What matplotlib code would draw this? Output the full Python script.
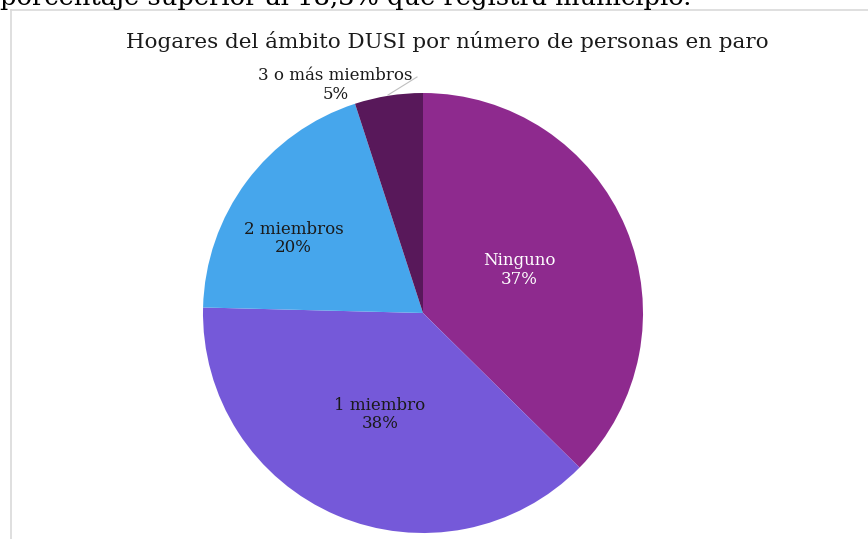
import matplotlib
matplotlib.use("Agg")
import matplotlib.pyplot as plt
import numpy as np
from matplotlib.lines import Line2D

categories = ["Ninguno", "1 miembro", "2 miembros", "3 o más miembros"]
values = [37.4, 38.0, 19.6, 5.0]
pct_labels = ["37%", "38%", "20%", "5%"]
colors = ["#8E2A8E", "#7559D9", "#46A6EC", "#58185A"]
title = "Hogares del ámbito DUSI por número de personas en paro"
top_text = "porcentaje superior al 18,3% que registra municipio."

W, H = 868, 539
cx, cy, R = 423, 313, 220
fig = plt.figure(figsize=(W / 100, H / 100), dpi=100)
fig.patch.set_facecolor("white")
font = "DejaVu Serif"

# border lines of the chart frame
fig.add_artist(Line2D([11 / W, 11 / W], [0, 1 - 10 / H], transform=fig.transFigure, color="#D9D9D9", lw=1.2))
fig.add_artist(Line2D([11 / W, 1], [1 - 10 / H, 1 - 10 / H], transform=fig.transFigure, color="#D9D9D9", lw=1.2))

# clipped text from the document above (cut off in the reference too)
fig.text(0.0, 1 - 5 / H, top_text, fontsize=18.5, family=font, ha="left", va="baseline", color="black")

ax = fig.add_axes([0, 0, 1, 1])
wedges, _ = ax.pie(values, colors=colors, startangle=90, counterclock=False,
                   wedgeprops=dict(linewidth=0))
ax.set_xlim(-cx / R, (W - cx) / R)
ax.set_ylim(-(H - cy) / R, cy / R)
ax.set_aspect("auto")
ax.axis("off")

fig.text(447 / W, 1 - 41 / H, title, fontsize=15.4, family=font, ha="center", va="center", color="#1a1a1a")

# label positions (radius fraction, angle degrees)
label_pos = [(0.48, 24), (0.50, 247), (0.68, 150), (1.11, 111)]
label_colors = ["white", "#1a1a1a", "#1a1a1a", "#1a1a1a"]
for cat, pct, (r, a), c in zip(categories, pct_labels, label_pos, label_colors):
    x, y = r * np.cos(np.radians(a)), r * np.sin(np.radians(a))
    ax.text(x, y, f"{cat}\n{pct}", ha="center", va="center", fontsize=12,
            family=font, color=c, linespacing=1.1)

# leader line for small slice
ax.plot([(417 - cx) / R, (388 - cx) / R], [(cy - 77) / R, (cy - 95) / R], color="#BFBFBF", lw=0.8)

fig.savefig("out.png", dpi=100, facecolor="white")
